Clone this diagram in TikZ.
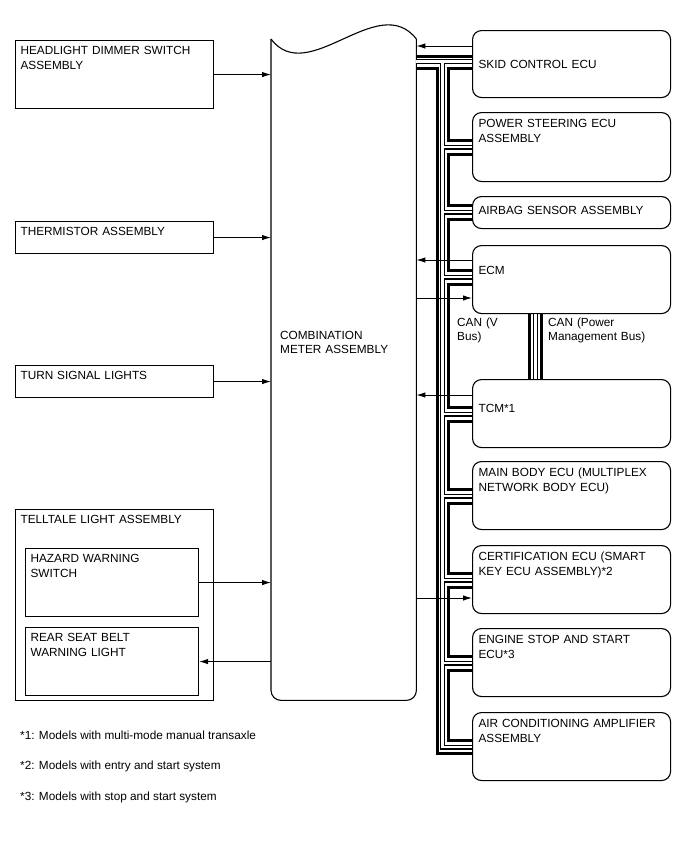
\documentclass[tikz,border=0pt]{standalone}
\usepackage{fontspec}
\setmainfont{Liberation Sans}
\usetikzlibrary{arrows.meta,calc}
\newcommand{\lbl}{\fontsize{11.8}{14.5}\selectfont}

\begin{document}
\begin{tikzpicture}[
    x=1pt, y=-1pt,
    lbox/.style={draw, line width=1.1pt, anchor=north west, align=left, font=\lbl, inner xsep=5pt, inner ysep=4pt, text width=188pt, text height=10pt, text depth=50pt},
    sbox/.style={text depth=14pt},
    hbox/.style={text width=163pt},
    ecu/.style={lbox, rounded corners=9pt, inner xsep=6pt, text width=186pt, text height=11pt, text depth=49pt},
    meterbox/.style={anchor=north west, align=left, font=\lbl, inner xsep=9pt, inner ysep=4pt, text width=127pt, text height=296pt, text depth=357pt},
    arr/.style={-{Latex[length=9pt,width=5.5pt]}, line width=1pt},
    canth/.style={line width=3pt},
    canho/.style={double, line width=1.3pt, double distance=2.4pt},
    cantxt/.style={anchor=north west, align=left, font=\lbl, inner sep=0pt, text width=110pt, text height=9pt, text depth=15pt},
    note/.style={anchor=base west, font=\lbl, inner sep=0pt}
]
\useasboundingbox (0,0) rectangle (688,852);

% Combination meter
\node[meterbox] (meter) at (271,39) {COMBINATION\\METER ASSEMBLY};
\draw[line width=1.1pt] (meter.north west) .. controls (308,88) and (378,-10) .. (meter.north east);
\draw[line width=1.1pt, rounded corners=10pt] (meter.north west) -- (meter.south west) -- (meter.south east) -- (meter.north east);

% Left side
\node[lbox] (hds) at (15,40) {HEADLIGHT DIMMER SWITCH\\ASSEMBLY};
\node[lbox, sbox] (therm) at (15,221) {THERMISTOR ASSEMBLY};
\node[lbox, sbox] (turn) at (15,365) {TURN SIGNAL LIGHTS};
\node[lbox, text depth=173pt] (tell) at (15,509) {TELLTALE LIGHT ASSEMBLY};
\node[lbox, hbox] (haz) at (25,548) {HAZARD WARNING\\SWITCH};
\node[lbox, hbox] (rsb) at (25,627) {REAR SEAT BELT\\WARNING LIGHT};
\draw[arr] (hds.east) -- (meter.west |- hds.east);
\draw[arr] (therm.east) -- (meter.west |- therm.east);
\draw[arr] (turn.east) -- (meter.west |- turn.east);
\draw[arr] (haz.east) -- (meter.west |- haz.east);
\draw[arr] (meter.west |- rsb.east) -- (rsb.east);

% ECUs
\node[ecu, text height=33.5pt, text depth=25.5pt] (skid) at (472,30) {SKID CONTROL ECU};
\node[ecu, text depth=50pt] (ps) at (472,112) {POWER STEERING ECU\\ASSEMBLY};
\node[ecu, text height=14pt, text depth=10pt] (ab) at (472,196) {AIRBAG SENSOR ASSEMBLY};
\node[ecu, text height=25pt, text depth=35pt] (ecm) at (472,245) {ECM};
\node[ecu, text height=29pt, text depth=31pt] (tcm) at (472,379) {TCM*1};
\node[ecu] (mb) at (472,461) {MAIN BODY ECU (MULTIPLEX\\NETWORK BODY ECU)};
\node[ecu] (cert) at (472,545) {CERTIFICATION ECU (SMART\\KEY ECU ASSEMBLY)*2};
\node[ecu] (ess) at (472,628) {ENGINE STOP AND START\\ECU*3};
\node[ecu] (ac) at (472,712) {AIR CONDITIONING AMPLIFIER\\ASSEMBLY};

% CAN (V Bus)
\coordinate (vo) at (437.5,0);
\coordinate (vh) at (442.5,0);
\coordinate (vi) at (448.5,0);
\draw[canho] (meter.east |- 0,61.5) -- (skid.west |- 0,61.5)
  (vh |- 0,61.5) |- (ac.west |- 0,747)
  (vh |- 0,147) -- (ps.west |- 0,147)
  (vh |- 0,212) -- (ab.west |- 0,212)
  (vh |- 0,277) -- (ecm.west |- 0,277)
  (vh |- 0,414) -- (tcm.west |- 0,414)
  (vh |- 0,496) -- (mb.west |- 0,496)
  (vh |- 0,580) -- (cert.west |- 0,580)
  (vh |- 0,663) -- (ess.west |- 0,663);
\draw[canth] (meter.east |- 0,56.8) -- (skid.west |- 0,56.8);
\draw[canth] (meter.east |- 0,68) -| (vo |- 0,753) -- (ac.west |- 0,753);
\foreach \a/\ya/\b/\yb in {skid/68/ps/140, ps/154/ab/205, ab/219/ecm/270, ecm/284/tcm/407, tcm/421/mb/489, mb/503/cert/573, cert/587/ess/656, ess/670/ac/740}
  \draw[canth] (\a.west |- 0,\ya) -| (vi |- 0,\yb) -- (\b.west |- 0,\yb);

% CAN (Power Management Bus)
\draw[canth] ([xshift=57.5pt]ecm.south west) -- ([xshift=57.5pt]tcm.north west);
\draw[canho] ([xshift=63.5pt]ecm.south west) -- ([xshift=63.5pt]tcm.north west);
\draw[canth] ([xshift=69.5pt]ecm.south west) -- ([xshift=69.5pt]tcm.north west);
\node[cantxt] (vbus) at (457,317) {CAN (V\\Bus)};
\node[cantxt] (pmbus) at (548,317) {CAN (Power\\Management Bus)};

% meter <-> ECU signals
\draw[arr] (skid.west |- 0,46) -- (meter.east |- 0,46);
\draw[arr] (ecm.west |- 0,260) -- (meter.east |- 0,260);
\draw[arr] (meter.east |- 0,298) -- (ecm.west |- 0,298);
\draw[arr] (tcm.west |- 0,395) -- (meter.east |- 0,395);
\draw[arr] (meter.east |- 0,598) -- (cert.west |- 0,598);

% notes
\node[note] (n1) at (20,739) {*1: Models with multi-mode manual transaxle};
\node[note] (n2) at (20,769) {*2: Models with entry and start system};
\node[note] (n3) at (20,800) {*3: Models with stop and start system};
\end{tikzpicture}
\end{document}
